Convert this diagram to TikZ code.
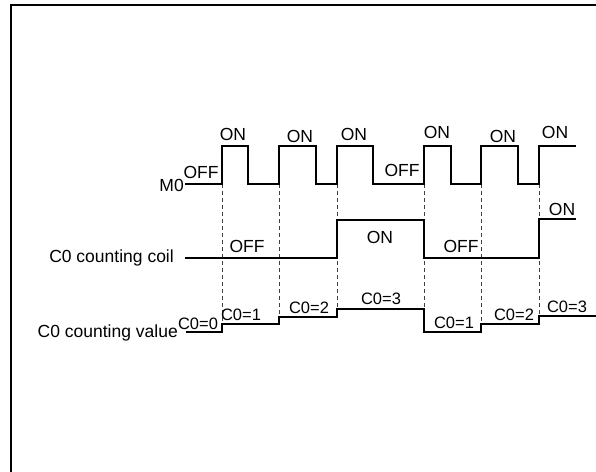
\documentclass[tikz,border=0pt]{standalone}
\usepackage{fontspec}
\setmainfont{Liberation Sans}
\begin{document}
\begin{tikzpicture}[x=1bp,y=-1bp,
  wave/.style={line width=1.6bp, line join=miter},
  guide/.style={line width=0.9bp, dash pattern=on 4bp off 3bp, black!75},
  lbl/.style={inner sep=0pt, font=\fontsize{17.5bp}{20bp}\selectfont},
  val/.style={inner sep=0pt, font=\fontsize{16.5bp}{19bp}\selectfont}]
\useasboundingbox (0,0) rectangle (596,472);
% frame
\draw[line width=2.2bp] (11,474) -- (11,5) -- (598,5);
% guides
\foreach \x/\y in {222/324, 279/317, 337/309, 424/309, 481/324, 539/316}
  \draw[guide] (\x,184) -- (\x,\y);
% M0
\draw[wave] (185,184) -- (222,184) -- (222,146) -- (248,146) -- (248,184)
  -- (279,184) -- (279,146) -- (316,146) -- (316,184) -- (337,184)
  -- (337,146) -- (373,146) -- (373,184) -- (424,184) -- (424,146)
  -- (451,146) -- (451,184) -- (481,184) -- (481,146) -- (518,146)
  -- (518,184) -- (539,184) -- (539,146) -- (576,146);
% coil
\draw[wave] (185,258) -- (337,258) -- (337,220) -- (424,220) -- (424,258)
  -- (539,258) -- (539,219) -- (576,219);
% value
\draw[wave] (186,332) -- (222,332) -- (222,324) -- (279,324) -- (279,317)
  -- (337,317) -- (337,309) -- (424,309) -- (424,332) -- (481,332)
  -- (481,324) -- (539,324) -- (539,316) -- (597,316);
% labels
\node[lbl, anchor=east] (m0) at (184,185) {M0};
\node[lbl, anchor=east] (coil) at (174,258) {C0 counting coil};
\node[lbl, anchor=east] (value) at (178,333) {C0 counting value};
\node[lbl] (off1) at (201,172) {OFF};
\node[lbl] (on1) at (233,134) {ON};
\node[lbl] (on2) at (300,136) {ON};
\node[lbl] (on3) at (354,134) {ON};
\node[lbl] (off2) at (402,170) {OFF};
\node[lbl] (on4) at (437,132) {ON};
\node[lbl] (on5) at (503,136) {ON};
\node[lbl] (on6) at (555,132) {ON};
\node[lbl] (coff1) at (247,246) {OFF};
\node[lbl] (con1) at (380,237) {ON};
\node[lbl] (coff2) at (461,246) {OFF};
\node[lbl] (con2) at (562,209) {ON};
\node[val] (v0) at (198,324) {C0=0};
\node[val] (v1) at (241,315) {C0=1};
\node[val] (v2) at (309,308) {C0=2};
\node[val] (v3) at (381,299) {C0=3};
\node[val] (v4) at (454,323) {C0=1};
\node[val] (v5) at (514,315) {C0=2};
\node[val] (v6) at (567,307) {C0=3};
\end{tikzpicture}
\end{document}
